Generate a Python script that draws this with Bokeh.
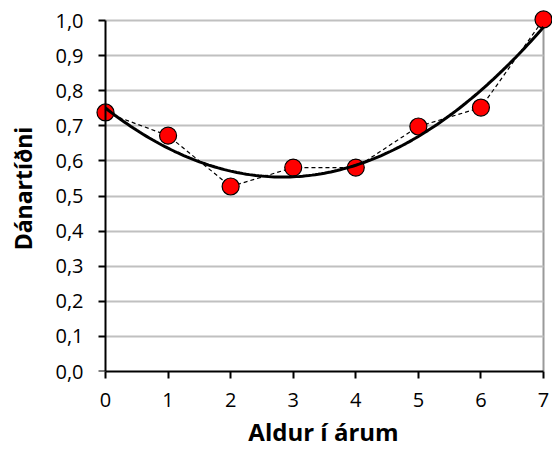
import numpy as np
from bokeh.plotting import figure
from bokeh.models import FixedTicker, CustomJSTickFormatter, Range1d, LinearAxis
from bokeh.embed import file_html
from bokeh.resources import INLINE

# Data
ages = [0, 1, 2, 3, 4, 5, 6, 7]
mortality = [0.738, 0.672, 0.527, 0.581, 0.581, 0.698, 0.752, 1.003]
x_ticks = [0, 1, 2, 3, 4, 5, 6, 7]
y_ticks = [0.0, 0.1, 0.2, 0.3, 0.4, 0.5, 0.6, 0.7, 0.8, 0.9, 1.0]
x_title = "Aldur í árum"
y_title = "Dánartíðni"

# Quadratic trendline fitted to the data (as in the original)
coef = np.polyfit(ages, mortality, 2)
trend_x = np.linspace(min(ages), max(ages), 141)
trend_y = np.polyval(coef, trend_x)

W, H = 552, 451
left, right, top, bottom = 94, 0, 5, 80
px_x0, px_x7 = 105, 543
px_y0, px_y1 = 371, 20
sx = (px_x7 - px_x0) / 7.0
sy = (px_y0 - px_y1) / 1.0
x_range = Range1d(-(px_x0 - left) / sx, 7 + (W - right - px_x7) / sx)
y_range = Range1d(-((H - bottom) - px_y0) / sy, 1 + (px_y1 - top) / sy)

p = figure(width=W, height=H, x_range=x_range, y_range=y_range,
           output_backend="svg", toolbar_location=None, title=None,
           min_border_left=left, min_border_right=right,
           min_border_top=top, min_border_bottom=bottom)
p.outline_line_color = None
p.background_fill_color = "white"
p.border_fill_color = "white"

# grids
p.ygrid.ticker = FixedTicker(ticks=y_ticks[1:])
p.ygrid.grid_line_color = "#c0c0c0"
p.ygrid.grid_line_width = 2
p.xgrid.ticker = FixedTicker(ticks=[x_ticks[-1]])
p.xgrid.grid_line_color = "#9a9a9a"
p.xgrid.grid_line_width = 2
try:
    p.ygrid.cross_bounds = (x_ticks[0], x_ticks[-1])
    p.xgrid.cross_bounds = (y_ticks[0], y_ticks[-1])
except Exception:
    pass

for ax in (p.xaxis[0], p.yaxis[0]):
    ax.minor_tick_line_color = None
    ax.major_label_text_font = "Open Sans"
    ax.major_label_text_font_size = "20px"
    ax.major_label_text_color = "black"
    ax.axis_label_text_font = "Open Sans"
    ax.axis_label_text_font_style = "bold"
    ax.axis_label_text_color = "black"

# x axis: normal axis at the bottom of the frame (y = 0)
xa = p.xaxis[0]
xa.bounds = (x_ticks[0], x_ticks[-1])
xa.ticker = FixedTicker(ticks=x_ticks)
xa.axis_line_color = "black"
xa.axis_line_width = 2
xa.major_tick_line_color = "black"
xa.major_tick_line_width = 2
xa.major_tick_in = 0
xa.major_tick_out = 7
xa.major_label_standoff = 14

# x-axis title on a stacked, otherwise invisible axis (centred like the original)
xt = LinearAxis(ticker=FixedTicker(ticks=[]), bounds=(-0.35, 7.0))
xt.axis_line_color = None
xt.major_tick_line_color = None
xt.minor_tick_line_color = None
xt.major_tick_in = 0
xt.major_tick_out = 0
xt.major_label_standoff = 0
xt.axis_label = x_title
xt.axis_label_text_font = "Open Sans"
xt.axis_label_text_font_size = "24px"
xt.axis_label_text_font_style = "bold"
xt.axis_label_text_color = "black"
xt.axis_label_standoff = 5
p.add_layout(xt, "below")

# y axis at frame edge: only tick labels and title
ya = p.yaxis[0]
ya.axis_line_color = None
ya.major_tick_line_color = None
ya.major_tick_in = 0
ya.major_tick_out = 0
ya.bounds = (y_ticks[0], y_ticks[-1])
ya.ticker = FixedTicker(ticks=y_ticks)
ya.formatter = CustomJSTickFormatter(code="return tick.toFixed(1).replace('.', ',');")
ya.major_label_standoff = 11
ya.axis_label = y_title
ya.axis_label_text_font_size = "23px"
ya.axis_label_standoff = 13

# y axis line + ticks positioned at x = 0
yl = LinearAxis(fixed_location=0, bounds=(y_ticks[0], y_ticks[-1]),
                ticker=FixedTicker(ticks=y_ticks))
yl.axis_line_color = "black"
yl.axis_line_width = 2
yl.major_tick_line_color = "black"
yl.major_tick_line_width = 2
yl.major_tick_in = 0
yl.major_tick_out = 7
yl.minor_tick_line_color = None
yl.major_label_text_alpha = 0
yl.major_label_text_font_size = "1px"
p.add_layout(yl, "left")

# data
p.line(ages, mortality, line_color="black", line_width=1.2, line_dash="4 3")
p.scatter(ages, mortality, size=17, fill_color="#ff0000", line_color="black", line_width=1.2)
p.line(trend_x, trend_y, line_color="black", line_width=3)

open("out.html", "w").write(file_html(p, INLINE))
